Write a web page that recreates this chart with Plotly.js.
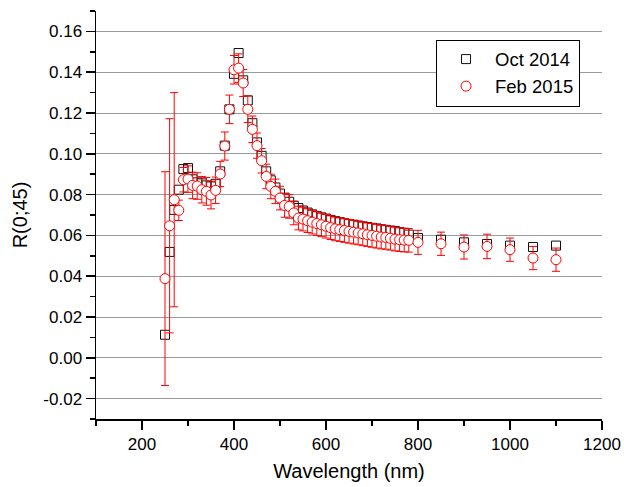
<!DOCTYPE html>
<html>
<head>
<meta charset="utf-8">
<script src="https://cdn.plot.ly/plotly-3.0.1.min.js"></script>
<style>html,body{margin:0;padding:0;background:#fff;}#chart{width:624px;height:487px;}</style>
</head>
<body>
<div id="chart"></div>
<script>
// Wavelength (nm)
var wavelength = [250,260,270,280,290,300,310,320,330,340,350,360,370,380,390,400,410,420,430,440,450,460,470,480,490,500,510,520,530,540,550,560,570,580,590,600,610,620,630,640,650,660,670,680,690,700,710,720,730,740,750,760,770,780,800,850,900,950,1000,1050,1100];
// Oct 2014 R(0;45)
var oct2014 = [0.0113,0.0519,0.0725,0.0824,0.0925,0.0930,0.0875,0.0860,0.0855,0.0845,0.0840,0.0853,0.0914,0.1040,0.1218,0.1392,0.1494,0.1360,0.1262,0.1150,0.1056,0.0990,0.0914,0.0870,0.0835,0.0805,0.0785,0.0765,0.0745,0.0734,0.0722,0.0712,0.0703,0.0695,0.0688,0.0682,0.0676,0.0670,0.0665,0.0660,0.0656,0.0652,0.0648,0.0644,0.0641,0.0637,0.0634,0.0630,0.0627,0.0624,0.0621,0.0616,0.0612,0.0604,0.0587,0.0579,0.0566,0.0558,0.0550,0.0543,0.0550];
// Feb 2015 R(0;45)
var feb2015 = [0.0388,0.0647,0.0775,0.0723,0.0873,0.0876,0.0845,0.0842,0.0824,0.0816,0.0798,0.0821,0.0901,0.1038,0.1218,0.1412,0.1420,0.1347,0.1218,0.1120,0.1040,0.0966,0.0889,0.0840,0.0816,0.0783,0.0747,0.0742,0.0710,0.0685,0.0680,0.0672,0.0665,0.0658,0.0652,0.0645,0.0638,0.0632,0.0628,0.0624,0.0620,0.0616,0.0612,0.0608,0.0603,0.0600,0.0596,0.0592,0.0590,0.0586,0.0582,0.0579,0.0577,0.0576,0.0566,0.0559,0.0543,0.0546,0.0530,0.0489,0.0481];
// Feb 2015 uncertainty
var feb2015Err = [0.0524,0.0525,0.0525,0.0050,0.0060,0.0065,0.0065,0.0065,0.0065,0.0068,0.0068,0.0065,0.0062,0.0069,0.0070,0.0070,0.0070,0.0066,0.0065,0.0065,0.0062,0.0060,0.0060,0.0060,0.0060,0.0058,0.0058,0.0058,0.0058,0.0058,0.0058,0.0058,0.0058,0.0058,0.0058,0.0058,0.0058,0.0058,0.0058,0.0058,0.0058,0.0058,0.0058,0.0058,0.0058,0.0058,0.0058,0.0058,0.0058,0.0058,0.0058,0.0058,0.0058,0.0058,0.0059,0.0057,0.0059,0.0060,0.0057,0.0057,0.0057];
var seriesNames = ["Oct 2014","Feb 2015"];
var xTickVals = [200,400,600,800,1000,1200];
var xTickText = ["200","400","600","800","1000","1200"];
var yTickVals = [-0.02,0.00,0.02,0.04,0.06,0.08,0.10,0.12,0.14,0.16];
var yTickText = ["-0.02","0.00","0.02","0.04","0.06","0.08","0.10","0.12","0.14","0.16"];

var font = "Liberation Sans, Arial, sans-serif";

var traces = [
  {
    x: wavelength, y: oct2014, name: seriesNames[0], type: "scatter", mode: "markers",
    marker: {symbol: "square-open", size: 9, color: "#111", line: {width: 1, color: "#111"}}
  },
  {
    x: wavelength, y: feb2015, name: seriesNames[1], type: "scatter", mode: "markers",
    marker: {symbol: "circle", size: 10, color: "white", line: {width: 1, color: "#ff0000"}},
    error_y: {type: "data", array: feb2015Err, visible: true, color: "#ff0000", thickness: 1, width: 4}
  }
];

var layout = {
  width: 624, height: 487,
  margin: {l: 96, r: 22, t: 11, b: 68, pad: 0},
  paper_bgcolor: "white", plot_bgcolor: "white",
  font: {family: font, color: "#000", size: 17},
  showlegend: true,
  legend: {
    x: 0.672, y: 0.93, xanchor: "left", yanchor: "top",
    bgcolor: "white", bordercolor: "#000", borderwidth: 1,
    font: {family: font, size: 18.5, color: "#000"},
    itemwidth: 48, tracegroupgap: 0
  },
  xaxis: {
    range: [100, 1200], autorange: false,
    showline: true, linecolor: "#000", linewidth: 1.5, mirror: false,
    showgrid: false, zeroline: false,
    tickmode: "array", tickvals: xTickVals, ticktext: xTickText,
    ticks: "outside", ticklen: 9, tickwidth: 1.5, tickcolor: "#000",
    tickfont: {family: font, size: 17, color: "#000"},
    minor: {dtick: 100, tick0: 100, ticks: "outside", ticklen: 5, tickwidth: 1.5, tickcolor: "#000", showgrid: false},
    title: {text: "Wavelength (nm)", font: {family: font, size: 20, color: "#000"}, standoff: 11}
  },
  yaxis: {
    range: [-0.03, 0.17], autorange: false,
    showline: true, linecolor: "#000", linewidth: 1.5, mirror: false,
    showgrid: true, gridcolor: "#9a9a9a", gridwidth: 1, zeroline: false,
    tickmode: "array", tickvals: yTickVals, ticktext: yTickText,
    ticks: "outside", ticklen: 9, tickwidth: 1.5, tickcolor: "#000",
    tickfont: {family: font, size: 17, color: "#000"},
    minor: {dtick: 0.01, tick0: -0.03, ticks: "outside", ticklen: 5, tickwidth: 1.5, tickcolor: "#000", showgrid: false},
    title: {text: "R(0;45)", font: {family: font, size: 20, color: "#000"}, standoff: 10}
  }
};

Plotly.newPlot("chart", traces, layout, {displayModeBar: false, staticPlot: true});
</script>
</body>
</html>
